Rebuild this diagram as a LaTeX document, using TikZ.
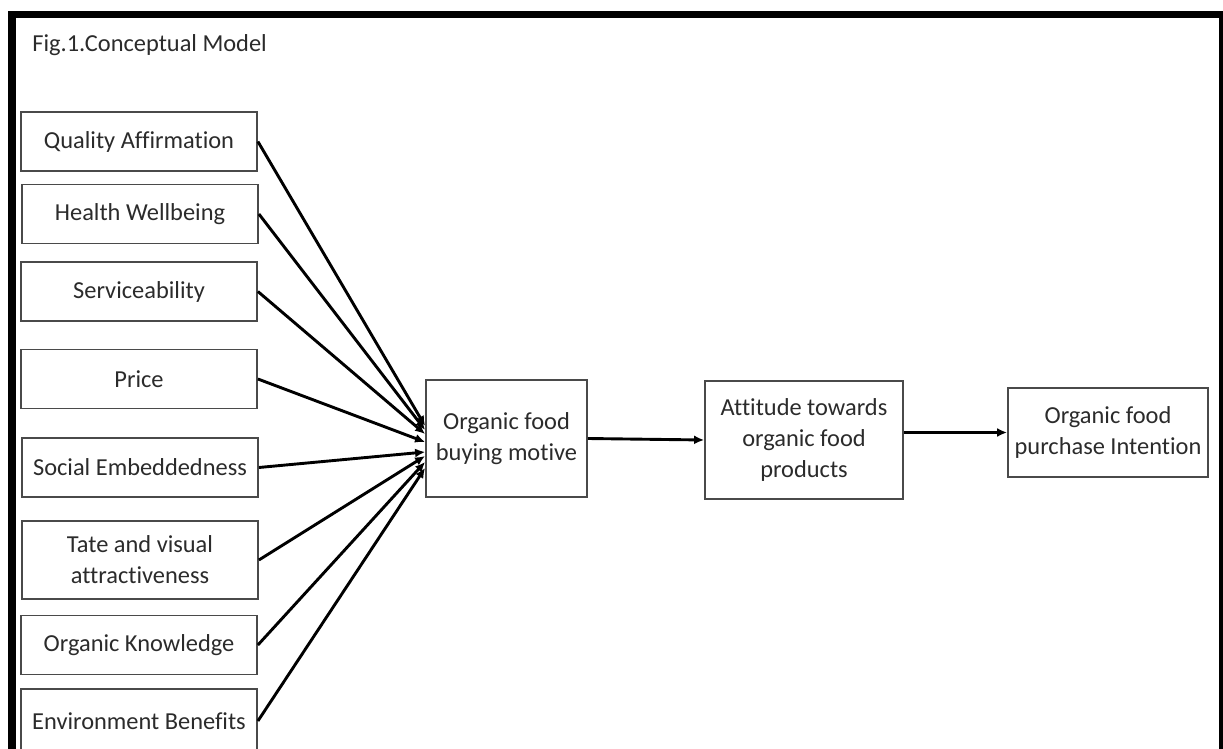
\documentclass[tikz,border=0pt]{standalone}
\usepackage{fontspec}
\setmainfont{Carlito}[Ligatures=NoCommon]
\usetikzlibrary{arrows.meta}
\definecolor{txtgray}{HTML}{2B2B2B}
\definecolor{boxgray}{HTML}{4A4A4A}
\begin{document}
\begin{tikzpicture}[x=0.5pt,y=-0.5pt,
        box/.style={draw=boxgray,line width=0.9pt,text=txtgray,align=center,
            minimum width=118pt,minimum height=29.5pt,inner sep=0pt,
            font=\fontsize{12.2}{15.5}\selectfont},
        link/.style={line width=1.45pt,-{Latex[length=5pt,width=4.5pt]}}]
        \useasboundingbox (0,0) rectangle (1223,749);
        \clip (0,0) rectangle (1223,749);
        \fill[white] (0,0) rectangle (1223,749);
        \fill[black] (8,11) rectangle (1223,18);
        \fill[black] (8,11) rectangle (16,749);
        \fill[black] (1219,11) rectangle (1223,749);
        \node (title) [anchor=base west,text=txtgray,inner sep=0pt,
            font=\fontsize{12.2}{15.5}\selectfont] at (32,52) {Fig.1.Conceptual Model};
        \node (qa) at (139,141.5) [box] {Quality Affirmation};
        \node (hw) at (140,214) [box] {Health Wellbeing};
        \node (sv) at (139,291.5) [box] {Serviceability};
        \node (pr) at (139,379) [box] {Price};
        \node (se) at (140,467.5) [box] {Social Embeddedness};
        \node (tv) at (140,560) [box,minimum height=39pt] {Tate and visual\\attractiveness};
        \node (ok) at (139,645) [box] {Organic Knowledge};
        \node (eb) at (139,721) [box,minimum height=32pt] {Environment Benefits};
        \node (motive) at (506.5,438.5) [box,minimum width=80.5pt,minimum height=58.5pt]
            {Organic food\\buying motive};
        \node (attitude) at (804,440) [box,minimum width=99pt,minimum height=59pt]
            {Attitude towards\\organic food\\products};
        \node (intention) at (1108,432.5) [box,minimum width=100pt,minimum height=44.5pt]
            {Organic food\\purchase Intention};
        \foreach \n/\dy in {qa/12.5,hw/8.5,sv/4.5,pr/-3.5,se/-13.5,tv/-17.5,ok/-23.5,eb/-29.5}
        \draw[link] (\n.east) -- ([yshift=\dy*0.5pt]motive.west);
        \draw[link] (motive.east) -- (attitude.west);
        \draw[link] (attitude.east |- intention.west) -- (intention.west);
    \end{tikzpicture}
\end{document}
